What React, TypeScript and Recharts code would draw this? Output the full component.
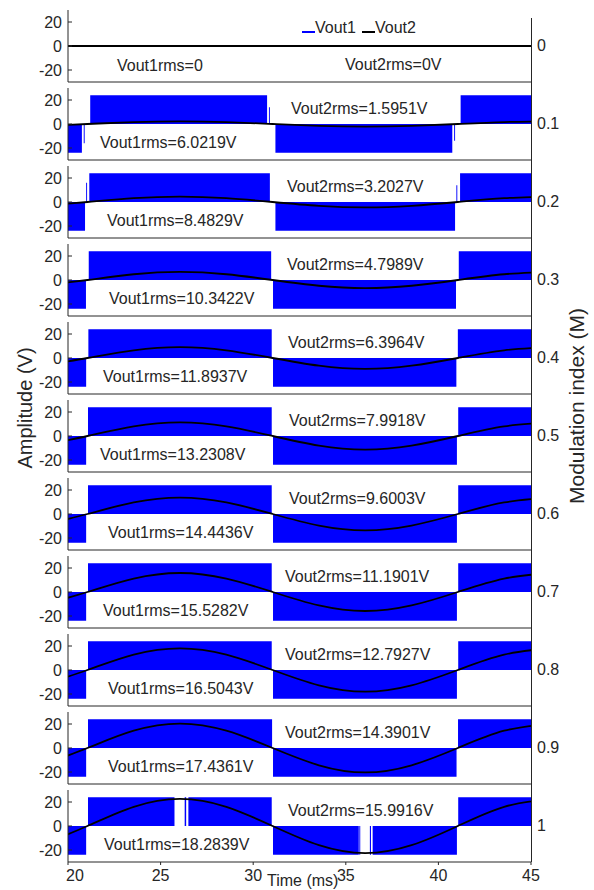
import React from "react";
import { Area, ComposedChart, Line, XAxis, YAxis } from "recharts";

const modulationIndex = ["0", "0.1", "0.2", "0.3", "0.4", "0.5", "0.6", "0.7", "0.8", "0.9", "1"];

const vout1RmsText = [
  "Vout1rms=0",
  "Vout1rms=6.0219V",
  "Vout1rms=8.4829V",
  "Vout1rms=10.3422V",
  "Vout1rms=11.8937V",
  "Vout1rms=13.2308V",
  "Vout1rms=14.4436V",
  "Vout1rms=15.5282V",
  "Vout1rms=16.5043V",
  "Vout1rms=17.4361V",
  "Vout1rms=18.2839V",
];

const vout2RmsText = [
  "Vout2rms=0V",
  "Vout2rms=1.5951V",
  "Vout2rms=3.2027V",
  "Vout2rms=4.7989V",
  "Vout2rms=6.3964V",
  "Vout2rms=7.9918V",
  "Vout2rms=9.6003V",
  "Vout2rms=11.1901V",
  "Vout2rms=12.7927V",
  "Vout2rms=14.3901V",
  "Vout2rms=15.9916V",
];

const timeTicks = [20, 25, 30, 35, 40, 45];
const ampTicks = [-20, 0, 20];

// Vout2 read at eighth-period points (ms); first/last lie just outside the window
const vout2Time = [18.55, 21.05, 23.55, 26.05, 28.55, 31.05, 33.55, 36.05, 38.55, 41.05, 43.55, 46.05];

const vout2M00 = [0, 0, 0, 0, 0, 0, 0, 0, 0, 0, 0, 0];
const vout2M01 = [-1.6, 0, 1.6, 2.26, 1.6, 0, -1.6, -2.26, -1.6, 0, 1.6, 2.26];
const vout2M02 = [-3.2, 0, 3.2, 4.53, 3.2, 0, -3.2, -4.53, -3.2, 0, 3.2, 4.53];
const vout2M03 = [-4.8, 0, 4.8, 6.79, 4.8, 0, -4.8, -6.79, -4.8, 0, 4.8, 6.79];
const vout2M04 = [-6.4, 0, 6.4, 9.05, 6.4, 0, -6.4, -9.05, -6.4, 0, 6.4, 9.05];
const vout2M05 = [-8.0, 0, 8.0, 11.3, 8.0, 0, -8.0, -11.3, -8.0, 0, 8.0, 11.3];
const vout2M06 = [-9.6, 0, 9.6, 13.58, 9.6, 0, -9.6, -13.58, -9.6, 0, 9.6, 13.58];
const vout2M07 = [-11.19, 0, 11.19, 15.83, 11.19, 0, -11.19, -15.83, -11.19, 0, 11.19, 15.83];
const vout2M08 = [-12.79, 0, 12.79, 18.09, 12.79, 0, -12.79, -18.09, -12.79, 0, 12.79, 18.09];
const vout2M09 = [-14.39, 0, 14.39, 20.35, 14.39, 0, -14.39, -20.35, -14.39, 0, 14.39, 20.35];
const vout2M10 = [-16.0, 0, 16.0, 22.6, 16.0, 0, -16.0, -22.6, -16.0, 0, 16.0, 22.6];

// Vout1 PWM envelope as step points: [time (ms), level (V)]
const vout1M00 = [[20, 0], [45, 0]];
const vout1M01 = [[20, -24], [20.75, 0], [20.85, -16], [20.9, 0], [21.2, 24], [30.75, 0], [30.85, 14], [30.9, 0], [31.2, -24], [40.75, 0], [40.85, -14], [40.9, 0], [41.2, 24], [45, 24]];
const vout1M02 = [[20, -24], [20.92, 0], [20.98, 16], [21.03, 0], [21.15, 24], [30.9, 0], [31.2, -24], [40.9, 0], [40.97, 14], [41.02, 0], [41.17, 24], [45, 24]];
const vout1M03 = [[20, -24], [20.97, 0], [21.12, 24], [30.97, 0], [31.07, -24], [40.95, 0], [41.1, 24], [45, 24]];
const vout1M04 = [[20, -24], [20.98, 0], [21.1, 24], [31.0, 0], [31.07, -24], [40.97, 0], [41.05, 24], [45, 24]];
const vout1M05 = [[20, -24], [20.98, 0], [21.08, 24], [31.0, 0], [31.07, -24], [41.0, 0], [41.07, 24], [45, 24]];
const vout1M06 = [[20, -24], [20.98, 0], [21.08, 24], [31.0, 0], [31.07, -24], [41.0, 0], [41.07, 24], [45, 24]];
const vout1M07 = [[20, -24], [20.98, 0], [21.08, 24], [31.0, 0], [31.07, -24], [41.0, 0], [41.07, 24], [45, 24]];
const vout1M08 = [[20, -24], [20.98, 0], [21.08, 24], [31.0, 0], [31.07, -24], [41.0, 0], [41.07, 24], [45, 24]];
const vout1M09 = [[20, -24], [20.98, 0], [21.08, 24], [31.02, 0], [31.07, -24], [40.98, 0], [41.06, 24], [45, 24]];
const vout1M10 = [[20, -24], [20.98, 0], [21.08, 24], [25.75, 0], [26.3, 24], [26.38, 0], [26.5, 24], [31.0, 0], [31.07, -24], [35.7, 0], [35.73, -24], [35.78, 0], [36.3, -24], [36.36, 0], [36.45, -24], [41.0, 0], [41.07, 24], [45, 24]];

const vout1Series = [vout1M00, vout1M01, vout1M02, vout1M03, vout1M04, vout1M05, vout1M06, vout1M07, vout1M08, vout1M09, vout1M10];
const vout2Series = [vout2M00, vout2M01, vout2M02, vout2M03, vout2M04, vout2M05, vout2M06, vout2M07, vout2M08, vout2M09, vout2M10];

// label placement (px from left)
const vout1LabelLeft = [117, 100, 107, 109, 103, 100, 108, 103, 108, 108, 104];
const vout2LabelLeft = [345, 291, 287, 287, 288, 289, 289, 285, 285, 285, 288];

const FONT = '"Liberation Sans", Arial, Helvetica, sans-serif';
const AXIS = "#262626";
const TEXT = "#262626";
const PITCH = 78;

function TimeTick(props: any) {
  const { x, y, payload } = props;
  const shift = payload.value === 20 ? 7 : 0;
  return (
    <text x={x + shift} y={y + 10} dy="0.35em" textAnchor="middle" fontSize={16} fill={TEXT}>
      {payload.value}
    </text>
  );
}

function Panel({ i }: { i: number }) {
  const last = i === vout1Series.length - 1;
  const h = last ? 112 : 88;
  const v1 = vout1Series[i].map(([t, v]) => ({ t, v }));
  const v2 = vout2Time.map((t, k) => ({ t, v: vout2Series[i][k] }));
  const labelTop2 = i === 0 ? 56 : 22;
  const labelTop1 = i === 0 ? 57 : 56;

  return (
    <div style={{ position: "absolute", left: 0, top: PITCH * i, width: 594, height: h }}>
      <ComposedChart width={594} height={h} margin={{ top: 10, right: 63, bottom: last ? 0 : 2, left: 28 }}>
        <XAxis
          dataKey="t"
          type="number"
          domain={[20, 45]}
          ticks={timeTicks}
          interval={0}
          allowDataOverflow
          height={last ? 30 : 4}
          tick={last ? <TimeTick /> : false}
          tickSize={3}
          tickMargin={0}
          axisLine={{ stroke: AXIS }}
          tickLine={{ stroke: AXIS }}
        />
        <YAxis
          type="number"
          domain={[-30, 30]}
          ticks={ampTicks}
          interval={0}
          allowDataOverflow
          width={40}
          tickSize={-4}
          tickMargin={10}
          axisLine={{ stroke: AXIS }}
          tickLine={{ stroke: AXIS }}
          tick={{ fontSize: 16, fill: TEXT }}
        />
        <Area
          data={v1}
          dataKey="v"
          type="stepAfter"
          baseValue={0}
          fill="#0000ff"
          fillOpacity={1}
          stroke="none"
          isAnimationActive={false}
        />
        <Line
          data={v2}
          dataKey="v"
          type="natural"
          stroke="#000000"
          strokeWidth={1.8}
          dot={false}
          isAnimationActive={false}
        />
      </ComposedChart>
      <div style={{ position: "absolute", left: vout2LabelLeft[i], top: labelTop2, lineHeight: "18px", fontSize: 16, color: TEXT, whiteSpace: "nowrap" }}>
        {vout2RmsText[i]}
      </div>
      <div style={{ position: "absolute", left: vout1LabelLeft[i], top: labelTop1, lineHeight: "18px", fontSize: 16, color: TEXT, whiteSpace: "nowrap" }}>
        {vout1RmsText[i]}
      </div>
      {/* modulation index on the shared right axis, level with this panel's zero */}
      <div style={{ position: "absolute", left: 537, top: 46 - 9, lineHeight: "18px", fontSize: 16, color: TEXT, whiteSpace: "nowrap" }}>
        {modulationIndex[i]}
      </div>
    </div>
  );
}

function RotatedLabel({ x, y, size, text }: { x: number; y: number; size: number; text: string }) {
  return (
    <div style={{ position: "absolute", left: x, top: y, width: 0, height: 0 }}>
      <span
        style={{
          position: "absolute",
          left: 0,
          top: 0,
          whiteSpace: "nowrap",
          fontSize: size,
          lineHeight: `${size + 3}px`,
          color: TEXT,
          transform: "translate(-50%, -50%) rotate(-90deg)",
        }}
      >
        {text}
      </span>
    </div>
  );
}

export default function App() {
  return (
    <div style={{ position: "absolute", left: 0, top: 0, width: 594, height: 890, background: "#fff", fontFamily: FONT, overflow: "hidden" }}>
      {vout1Series.map((_, i) => (
        <Panel key={i} i={i} />
      ))}

      {/* continuous right-hand axis */}
      <div style={{ position: "absolute", left: 530.5, top: 18, width: 1, height: 844, background: AXIS }} />

      {/* legend */}
      <div style={{ position: "absolute", left: 302, top: 31, width: 13, height: 1.5, background: "#0000ff" }} />
      <div style={{ position: "absolute", left: 315, top: 19, fontSize: 16, lineHeight: "18px", color: TEXT }}>Vout1</div>
      <div style={{ position: "absolute", left: 362, top: 31, width: 13, height: 1.5, background: "#000" }} />
      <div style={{ position: "absolute", left: 375, top: 19, fontSize: 16, lineHeight: "18px", color: TEXT }}>Vout2</div>

      <RotatedLabel x={25} y={408} size={20} text="Amplitude (V)" />
      <RotatedLabel x={577} y={406} size={21} text="Modulation index (M)" />

      <div style={{ position: "absolute", left: 267, top: 873, fontSize: 16, lineHeight: "16px", color: TEXT, whiteSpace: "nowrap" }}>
        Time (ms)
      </div>
    </div>
  );
}
